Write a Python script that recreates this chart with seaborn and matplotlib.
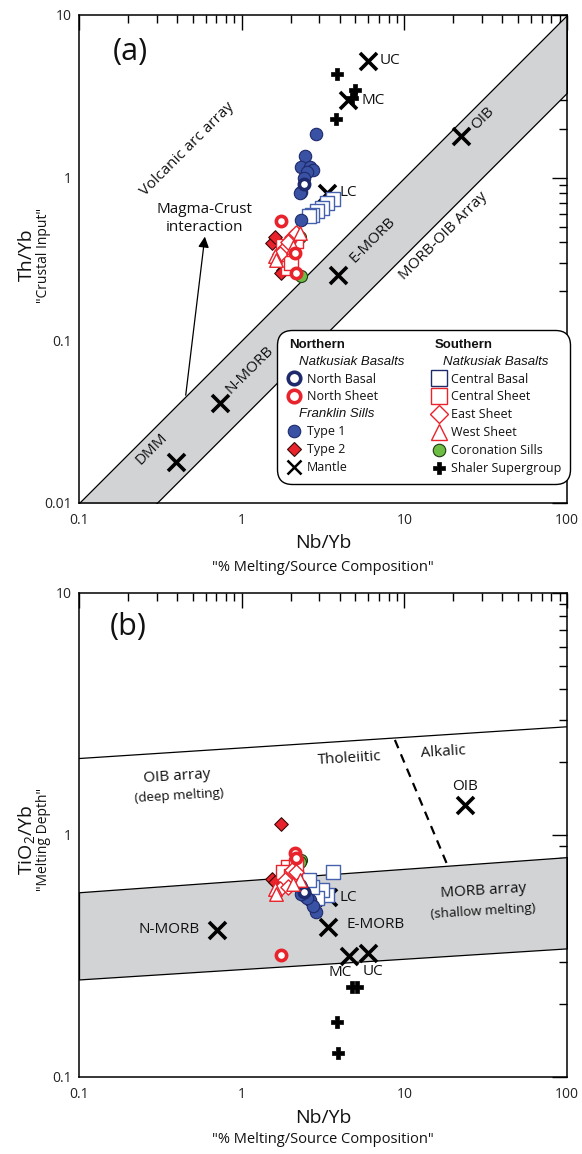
import numpy as np
import pandas as pd
import matplotlib
matplotlib.use("Agg")
import matplotlib.pyplot as plt
import seaborn as sns
from matplotlib.lines import Line2D
from matplotlib.ticker import LogLocator, NullFormatter, FixedLocator, FixedFormatter

# ---------------- data ----------------
# Type 1 Franklin sills (blue filled circles)
type1_nb = [2.86, 2.45, 2.33, 2.62, 2.74, 2.52, 2.40, 2.33, 2.28, 2.33]
type1_th = [1.85, 1.35, 1.17, 1.17, 1.11, 1.09, 0.99, 0.82, 0.80, 0.55]
type1_ti = [0.48, 0.56, 0.60, 0.54, 0.51, 0.55, 0.58, 0.61, 0.62, 0.57]
# North Basal (open navy circle)
nbasal_nb = [2.42]
nbasal_th = [0.92]
nbasal_ti = [0.58]
# North Sheet (open red circles)
nsheet_nb = [1.74, 2.13, 2.17]
nsheet_th = [0.54, 0.343, 0.258]
nsheet_ti = [0.32, 0.84, 0.80]
# Type 2 Franklin sills (red filled diamonds)
type2_nb = [1.53, 1.60, 1.80, 1.74]
type2_th = [0.395, 0.43, 0.27, 0.26]
type2_ti = [0.66, 0.64, 0.62, 1.11]
# Central Basal (open blue squares)
cbasal_nb = [3.66, 3.33, 3.10, 2.90, 2.70, 2.58]
cbasal_th = [0.74, 0.70, 0.65, 0.62, 0.59, 0.58]
cbasal_ti = [0.70, 0.565, 0.59, 0.55, 0.61, 0.65]
# Central Sheet (open red squares)
csheet_nb = [1.94, 1.80, 2.17, 2.00]
csheet_th = [0.28, 0.38, 0.41, 0.30]
csheet_ti = [0.74, 0.70, 0.75, 0.68]
# East Sheet (open red diamonds)
esheet_nb = [2.03, 1.85, 1.72, 2.17, 1.93]
esheet_th = [0.43, 0.37, 0.34, 0.46, 0.40]
esheet_ti = [0.72, 0.65, 0.60, 0.70, 0.61]
# West Sheet (open red triangles)
wsheet_nb = [2.28, 1.60, 1.63, 2.08]
wsheet_th = [0.46, 0.33, 0.31, 0.375]
wsheet_ti = [0.65, 0.60, 0.57, 0.63]
# Coronation Sills (green circles)
coron_nb = [2.33, 2.28]
coron_th = [0.247, 0.43]
coron_ti = [0.79, 0.77]
# Shaler Supergroup (black plus)
shaler_nb_a = [3.87, 4.97, 4.75, 3.80]
shaler_th = [4.32, 3.46, 3.10, 2.29]
shaler_nb_b = [4.74, 5.09, 3.84, 3.92]
shaler_ti = [0.236, 0.236, 0.169, 0.126]

# Mantle / crust reference compositions
mantle_names_a = ["DMM", "N-MORB", "E-MORB", "OIB", "LC", "MC", "UC"]
mantle_nb_a = [0.394, 0.736, 3.93, 22.3, 3.33, 4.52, 6.0]
mantle_th_a = [0.0179, 0.041, 0.253, 1.80, 0.80, 3.0, 5.24]
mantle_names_b = ["N-MORB", "E-MORB", "OIB", "LC", "MC", "UC"]
mantle_nb_b = [0.705, 3.39, 23.5, 3.39, 4.56, 5.97]
mantle_ti_b = [0.405, 0.417, 1.33, 0.554, 0.316, 0.325]

# Reference arrays
band_nb = [0.1, 100]
band_th_upper = [0.01, 10]
band_th_lower = [0.00333, 3.33]
oib_line_ti = [2.07, 2.80]
morb_upper_ti = [0.58, 0.81]
morb_lower_ti = [0.253, 0.34]
divider_nb = [8.75, 18.2]
divider_ti = [2.47, 0.764]

x_ticks = [0.1, 1, 10, 100]
x_labels = ["0.1", "1", "10", "100"]
ya_ticks = [0.01, 0.1, 1, 10]
ya_labels = ["0.01", "0.1", "1", "10"]
yb_ticks = [0.1, 1, 10]
yb_labels = ["0.1", "1", "10"]

# ---------------- style ----------------
sns.set_theme(style="white")
plt.rcParams["font.family"] = ["Open Sans", "DejaVu Sans"]
plt.rcParams["mathtext.default"] = "regular"
plt.rcParams["axes.edgecolor"] = "black"
plt.rcParams["axes.linewidth"] = 1.1

BLUE = "#3a52a3"
NAVY = "#1e2a6c"
SQBLUE = "#4561ad"
RED = "#e8232b"
GREEN = "#6dbd45"
GRAY = "#d2d3d5"

groups = [
    # name, nb, th, ti, marker, size, face, edge, lw
    ("Central Basal", cbasal_nb, cbasal_th, cbasal_ti, "s", 105, "white", SQBLUE, 1.0),
    ("Type 1", type1_nb, type1_th, type1_ti, "o", 80, BLUE, NAVY, 0.8),
    ("North Basal", nbasal_nb, nbasal_th, nbasal_ti, "o", 55, "white", NAVY, 2.6),
    ("Coronation Sills", coron_nb, coron_th, coron_ti, "o", 75, GREEN, "#1f3a12", 0.8),
    ("Type 2", type2_nb, type2_th, type2_ti, "D", 48, RED, "#3b0a0a", 0.8),
    ("Central Sheet", csheet_nb, csheet_th, csheet_ti, "s", 105, "white", RED, 1.0),
    ("East Sheet", esheet_nb, esheet_th, esheet_ti, "D", 60, "white", RED, 1.0),
    ("West Sheet", wsheet_nb, wsheet_th, wsheet_ti, "^", 95, "white", RED, 1.0),
    ("North Sheet", nsheet_nb, nsheet_th, nsheet_ti, "o", 55, "white", RED, 2.6),
]

fig = plt.figure(figsize=(5.82, 11.54), dpi=100)
axA = fig.add_axes([79 / 582, 1 - 503 / 1154, 488 / 582, 488 / 1154])
axB = fig.add_axes([79 / 582, 1 - 1077 / 1154, 488 / 582, 484 / 1154])


def setup_axis(ax, ymin, ymax, yt, yl):
    ax.set_xscale("log")
    ax.set_yscale("log")
    ax.set_xlim(0.1, 100)
    ax.set_ylim(ymin, ymax)
    ax.xaxis.set_major_locator(FixedLocator(x_ticks))
    ax.xaxis.set_major_formatter(FixedFormatter(x_labels))
    ax.yaxis.set_major_locator(FixedLocator(yt))
    ax.yaxis.set_major_formatter(FixedFormatter(yl))
    ax.xaxis.set_minor_locator(LogLocator(base=10, subs=np.arange(2, 10)))
    ax.yaxis.set_minor_locator(LogLocator(base=10, subs=np.arange(2, 10)))
    ax.xaxis.set_minor_formatter(NullFormatter())
    ax.yaxis.set_minor_formatter(NullFormatter())
    ax.tick_params(which="both", direction="in", top=True, right=True,
                   color="black", width=1.0, labelsize=10, labelcolor="#222222")
    ax.tick_params(which="major", length=11)
    ax.tick_params(which="minor", length=6)
    ax.tick_params(axis="x", which="major", pad=7)
    ax.tick_params(axis="y", which="major", pad=5)
    ax.grid(False)
    for s in ax.spines.values():
        s.set_color("black")
        s.set_linewidth(1.1)


# ================= Panel (a) =================
ax = axA
setup_axis(ax, 0.01, 10, ya_ticks, ya_labels)
ax.fill_between(band_nb, band_th_lower, band_th_upper, facecolor=GRAY,
                edgecolor="black", linewidth=0.9, zorder=1)

sns.scatterplot(x=shaler_nb_a, y=shaler_th, ax=ax, marker="P", s=75,
                color="black", edgecolor="black", linewidth=0.5, legend=False, zorder=4)
sns.scatterplot(x=mantle_nb_a, y=mantle_th_a, ax=ax, marker="x", s=150,
                color="black", linewidth=2.6, legend=False, zorder=4)
for name, nb, th, ti, mk, sz, fc, ec, lw in groups:
    sns.scatterplot(x=nb, y=th, ax=ax, marker=mk, s=sz, color=fc,
                    edgecolor=ec, linewidth=lw, legend=False, zorder=5)

txt = dict(color="#111111", fontsize=11)
ax.text(7.08, 5.24, "UC", ha="left", va="center", **txt)
ax.text(5.47, 3.0, "MC", ha="left", va="center", **txt)
ax.text(4.02, 0.81, "LC", ha="left", va="center", **txt)
ax.text(6.41, 0.414, "E-MORB", ha="center", va="center", rotation=45, **txt)
ax.text(1.12, 0.066, "N-MORB", ha="center", va="center", rotation=45, **txt)
ax.text(0.281, 0.0215, "DMM", ha="center", va="center", rotation=45, **txt)
ax.text(30.4, 2.33, "OIB", ha="center", va="center", rotation=45, **txt)
ax.text(17.3, 0.435, "MORB-OIB Array", ha="center", va="center", rotation=45, **txt)
ax.text(0.461, 1.49, "Volcanic arc array", ha="center", va="center", rotation=45, **txt)
ax.text(0.594, 0.56, "Magma-Crust\ninteraction", ha="center", va="center",
        linespacing=1.3, **txt)
ax.annotate("", xy=(0.594, 0.434), xytext=(0.453, 0.046),
            arrowprops=dict(arrowstyle="-|>", color="black", lw=0.9,
                            mutation_scale=16, shrinkA=0, shrinkB=0))
ax.text(0.1 * 10 ** (51 / 162.7), 10 ** (1 - 37 / 162.7), "(a)", ha="center",
        va="center", fontsize=22, color="#111111")

ax.text(0.5, -0.082, "Nb/Yb", transform=ax.transAxes, ha="center", va="center",
        fontsize=14, color="#111111")
ax.text(0.5, -0.133, '"% Melting/Source Composition"', transform=ax.transAxes,
        ha="center", va="center", fontsize=10.5, color="#111111")
ax.text(-0.107, 0.508, "Th/Yb", transform=ax.transAxes, ha="center", va="center",
        rotation=90, fontsize=14, color="#111111")
ax.text(-0.072, 0.508, '"Crustal Input"', transform=ax.transAxes, ha="center",
        va="center", rotation=90, fontsize=10, color="#111111")

# legend
def mk_handle(marker, size, fc, ec, lw):
    return Line2D([], [], linestyle="none", marker=marker, markersize=size,
                  markerfacecolor=fc, markeredgecolor=ec, markeredgewidth=lw)

blank = Line2D([], [], linestyle="none")
handles = [
    blank, blank,
    mk_handle("o", 9, "white", NAVY, 2.6),
    mk_handle("o", 9, "white", RED, 2.6),
    blank,
    mk_handle("o", 9, BLUE, NAVY, 0.8),
    mk_handle("D", 7.5, RED, "#3b0a0a", 0.8),
    Line2D([], [], linestyle="none", marker="x", markersize=10,
           markeredgecolor="black", markeredgewidth=1.8),
    blank, blank,
    mk_handle("s", 12, "white", NAVY, 1.0),
    mk_handle("s", 12, "white", RED, 1.0),
    mk_handle("D", 9, "white", RED, 1.0),
    mk_handle("^", 11, "white", RED, 1.0),
    mk_handle("o", 9, GREEN, "#1f3a12", 0.8),
    mk_handle("P", 9, "black", "black", 0.5),
]
labels = ["Northern", "Natkusiak Basalts", "North Basal", "North Sheet",
          "Franklin Sills", "Type 1", "Type 2", "Mantle",
          "Southern", "Natkusiak Basalts", "Central Basal", "Central Sheet",
          "East Sheet", "West Sheet", "Coronation Sills", "Shaler Supergroup"]
leg = ax.legend(handles, labels, loc="upper left", bbox_to_anchor=(0.406, 0.3545),
                ncol=2, fontsize=9, handlelength=1.3, handletextpad=0.35,
                columnspacing=1.5, labelspacing=0.39, borderpad=0.7,
                frameon=True, fancybox=True, borderaxespad=0)
frame = leg.get_frame()
frame.set_edgecolor("black")
frame.set_linewidth(1.0)
frame.set_facecolor("white")
frame.set_alpha(1)
frame.set_boxstyle("round", pad=0, rounding_size=1.2)
leg.set_zorder(10)
for t in leg.get_texts():
    lab = t.get_text()
    t.set_color("#111111")
    if lab in ("Northern", "Southern"):
        t.set_fontfamily("Liberation Sans")
        t.set_fontweight("bold")
        t.set_fontsize(9.5)
        t.set_x(-17)
    elif lab in ("Natkusiak Basalts", "Franklin Sills"):
        t.set_fontfamily("Liberation Sans")
        t.set_fontstyle("italic")
        t.set_fontsize(9.5)
        t.set_x(-8)

# ================= Panel (b) =================
ax = axB
setup_axis(ax, 0.1, 10, yb_ticks, yb_labels)
ax.fill_between(band_nb, morb_lower_ti, morb_upper_ti, facecolor=GRAY,
                edgecolor="black", linewidth=0.9, zorder=1)
ax.plot(band_nb, oib_line_ti, color="black", linewidth=0.9, zorder=2)
ax.plot(divider_nb, divider_ti, color="black", linewidth=1.6,
        linestyle=(0, (4, 3)), zorder=2)

sns.scatterplot(x=shaler_nb_b, y=shaler_ti, ax=ax, marker="P", s=75,
                color="black", edgecolor="black", linewidth=0.5, legend=False, zorder=4)
sns.scatterplot(x=mantle_nb_b, y=mantle_ti_b, ax=ax, marker="x", s=150,
                color="black", linewidth=2.6, legend=False, zorder=4)
for name, nb, th, ti, mk, sz, fc, ec, lw in groups:
    sns.scatterplot(x=nb, y=ti, ax=ax, marker=mk, s=sz, color=fc,
                    edgecolor=ec, linewidth=lw, legend=False, zorder=5)

ax.text(0.555, 0.405, "N-MORB", ha="right", va="center", **txt)
ax.text(4.02, 0.554, "LC", ha="left", va="center", **txt)
ax.text(4.42, 0.425, "E-MORB", ha="left", va="center", **txt)
ax.text(4.02, 0.27, "MC", ha="center", va="center", **txt)
ax.text(6.38, 0.272, "UC", ha="center", va="center", **txt)
ax.text(23.5, 1.58, "OIB", ha="center", va="center", **txt)
ax.text(4.64, 2.07, "Tholeiitic", ha="center", va="center", rotation=3.5, **txt)
ax.text(17.3, 2.19, "Alkalic", ha="center", va="center", rotation=3.5, **txt)
ax.text(0.40, 1.74, "OIB array", ha="center", va="center", rotation=3.5, **txt)
ax.text(0.41, 1.45, "(deep melting)", ha="center", va="center", rotation=3.5,
        fontsize=9.5, color="#111111")
ax.text(30.5, 0.59, "MORB array", ha="center", va="center", rotation=3.5, **txt)
ax.text(30.5, 0.485, "(shallow melting)", ha="center", va="center", rotation=3.5,
        fontsize=9.5, color="#111111")
ax.text(0.1 * 10 ** (49 / 162.7), 10 ** ((835 - 627) / 242), "(b)", ha="center",
        va="center", fontsize=22, color="#111111")

ax.text(0.5, -0.085, "Nb/Yb", transform=ax.transAxes, ha="center", va="center",
        fontsize=14, color="#111111")
ax.text(0.5, -0.13, '"% Melting/Source Composition"', transform=ax.transAxes,
        ha="center", va="center", fontsize=10.5, color="#111111")
ax.text(-0.107, 0.49, r"TiO$_2$/Yb", transform=ax.transAxes, ha="center",
        va="center", rotation=90, fontsize=14, color="#111111")
ax.text(-0.072, 0.49, '"Melting Depth"', transform=ax.transAxes, ha="center",
        va="center", rotation=90, fontsize=10, color="#111111")

fig.savefig("out.png", dpi=100, facecolor="white")
